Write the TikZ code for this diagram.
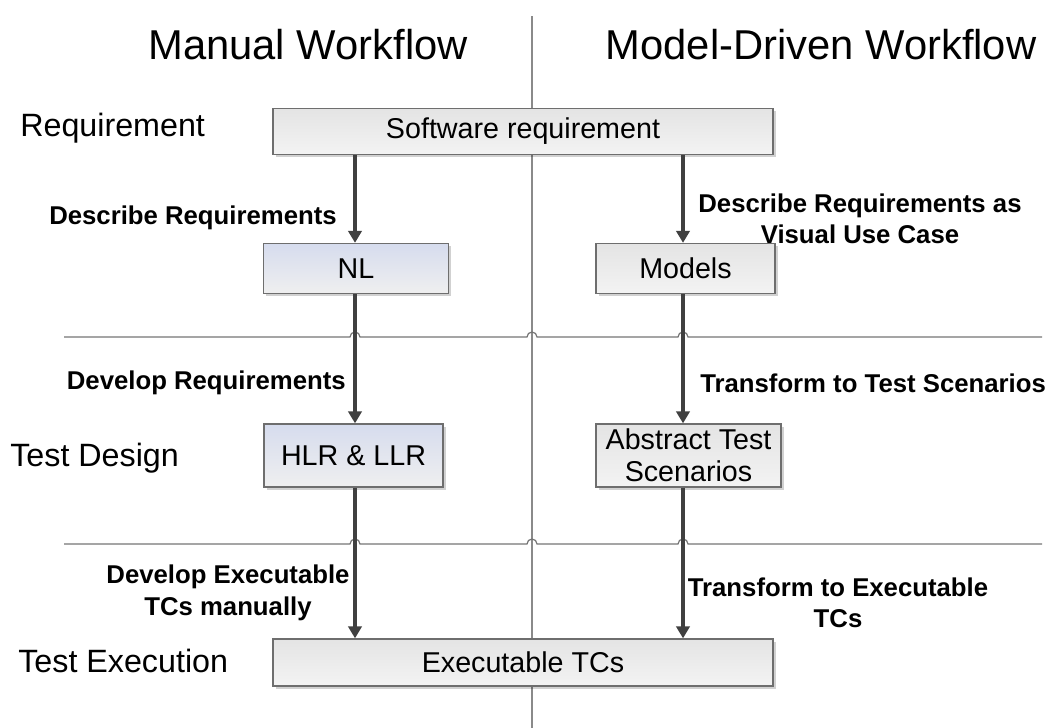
\documentclass[tikz,border=0pt]{standalone}
\usepackage{fontspec}
\setmainfont{Liberation Sans}
\usetikzlibrary{arrows.meta}
\definecolor{boxline}{HTML}{6E6E6E}
\definecolor{arrowc}{HTML}{404040}
\definecolor{sepline}{HTML}{8A8A8A}
\definecolor{graytop}{HTML}{E4E4E4}
\definecolor{graybot}{HTML}{F3F3F3}
\definecolor{bluetop}{HTML}{D6DCEE}
\definecolor{bluebot}{HTML}{EFEFEF}
\tikzset{
  stagebox/.style={draw=boxline, line width=1pt, top color=graytop, bottom color=graybot,
    inner sep=0pt, align=center, font=\fontsize{21.5}{25}\selectfont,
    append after command={}},
  bluebox/.style={stagebox, top color=bluetop, bottom color=bluebot},
  flow/.style={draw=arrowc, line width=3pt, -{Triangle[length=9pt,width=10pt]}},
  steplabel/.style={font=\bfseries\fontsize{19.3}{23.5}\selectfont, align=center, inner sep=0pt},
  rowlabel/.style={font=\fontsize{24.2}{28}\selectfont, anchor=west, inner sep=0pt},
  titlelabel/.style={font=\fontsize{31.3}{36}\selectfont, inner sep=0pt},
  divider/.style={draw=sepline, line width=1.1pt},
  phaseline/.style={draw=sepline!85!black, line width=0.9pt},
  boxshadow/.style={fill=black, opacity=0.18, draw=none}
}
\begin{document}
\begin{tikzpicture}[x=0.75pt,y=-0.75pt]
\useasboundingbox (0,0) rectangle (1053,728);

% column divider
\draw[divider] (532,16) -- (532,728);

% phase separators, hopping over the vertical lines
\foreach \yy in {337,544}{
  \draw[phaseline] (64,\yy) -- (350,\yy) arc[start angle=180,end angle=0,radius=3.75pt]
    -- (527,\yy) arc[start angle=180,end angle=0,radius=3.75pt]
    -- (678,\yy) arc[start angle=180,end angle=0,radius=3.75pt]
    -- (1042,\yy);
}

% titles and row labels
\node[titlelabel] (tman) at (308,45) {Manual Workflow};
\node[titlelabel] (tmod) at (821,45) {Model-Driven Workflow};
\node[rowlabel] (lreq) at (20,128) {Requirement};
\node[rowlabel] (ldes) at (10,458) {Test Design};
\node[rowlabel] (lexe) at (18,661) {Test Execution};

% shadows under the boxes
\foreach \cx/\cy/\w/\h in {523/131.5/500/46, 356/268.5/185/50, 685.5/268.5/179/50,
                           353.5/455.5/179/63, 688.5/455.5/185/63, 523/662.5/500/47}{
  \fill[boxshadow] (\cx-\w/2+2.5,\cy-\h/2+2.5) rectangle (\cx+\w/2+2.5,\cy+\h/2+2.5);
}

% stage boxes
\node[stagebox, minimum width=375pt, minimum height=34.5pt] (soft) at (523,131.5) {Software requirement};
\node[bluebox, minimum width=138.75pt, minimum height=37.5pt] (nl) at (356,268.5) {NL};
\node[stagebox, minimum width=134.25pt, minimum height=37.5pt] (models) at (685.5,268.5) {Models};
\node[bluebox, minimum width=134.25pt, minimum height=47.25pt] (hlr) at (353.5,455.5) {HLR \& LLR};
\node[stagebox, minimum width=138.75pt, minimum height=47.25pt] (ats) at (688.5,455.5) {Abstract Test\\[-1pt]Scenarios};
\node[stagebox, minimum width=375pt, minimum height=35.25pt] (exe) at (523,662.5) {Executable TCs};

% column positions of the flows
\coordinate (lc) at (355,0);
\coordinate (rc) at (683,0);

% flows
\draw[flow] (soft.south -| lc) -- (nl.north -| lc);
\draw[flow] (soft.south -| rc) -- (models.north -| rc);
\draw[flow] (nl.south -| lc) -- (hlr.north -| lc);
\draw[flow] (models.south -| rc) -- (ats.north -| rc);
\draw[flow] (hlr.south -| lc) -- (exe.north -| lc);
\draw[flow] (ats.south -| rc) -- (exe.north -| rc);

% flow labels
\node[steplabel, anchor=east] (d1) at (337,218) {Describe Requirements};
\node[steplabel] (d2) at (860,219) {Describe Requirements as\\Visual Use Case};
\node[steplabel, anchor=east] (d3) at (346,383) {Develop Requirements};
\node[steplabel, anchor=west] (d4) at (700,383) {Transform to Test Scenarios};
\node[steplabel] (d5) at (228,593) {Develop Executable\\TCs manually};
\node[steplabel] (d6) at (838,603) {Transform to Executable\\TCs};
\end{tikzpicture}
\end{document}
